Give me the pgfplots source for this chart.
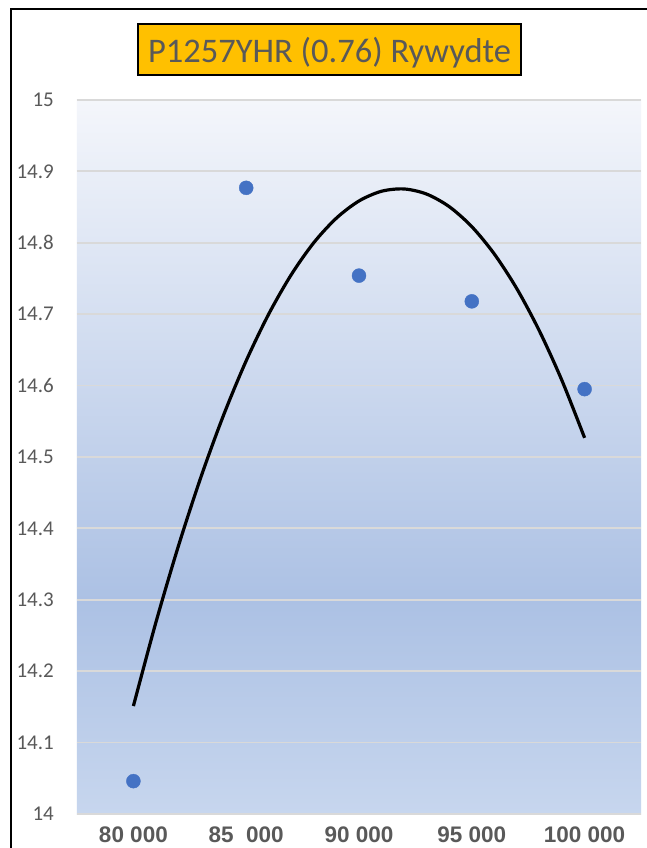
\documentclass[border=0pt]{standalone}
\usepackage{pgfplots}
\pgfplotsset{compat=1.18}
\usepackage{fontspec}
\setmainfont{Carlito}
\newfontfamily\arialfont{Liberation Sans}
\definecolor{txtgray}{HTML}{595959}
\definecolor{gridgray}{HTML}{D9D9D9}
\definecolor{ptblue}{HTML}{4472C4}
\definecolor{ttlfill}{HTML}{FFC000}
\definecolor{gtop}{HTML}{F4F6FB}
\definecolor{gmid}{HTML}{ACC1E4}
\definecolor{gbot}{HTML}{C7D6EE}
\pgfdeclareverticalshading{plotbg}{100bp}{color(0bp)=(gbot); color(25bp)=(gbot); color(40bp)=(gmid); color(75bp)=(gtop); color(100bp)=(gtop)}
\begin{document}
\begin{tikzpicture}[x=1pt,y=1pt]
\useasboundingbox (0,0) rectangle (646,848);
\fill[white] (0,0) rectangle (646,848);
\draw[black, line width=1.6pt] (11,-20) rectangle (700,839);
\begin{axis}[
  at={(77pt,34pt)}, anchor=south west,
  scale only axis, width=564pt, height=714pt,
  xmin=77500, xmax=102500, ymin=14, ymax=15,
  axis line style={draw=none},
  major tick length=0pt,
  axis background/.style={shade, shading=plotbg},
  ymajorgrids, major grid style={gridgray, line width=1.8pt},
  ytick={14,14.1,14.2,14.3,14.4,14.5,14.6,14.7,14.8,14.9,15},
  yticklabels={14,14.1,14.2,14.3,14.4,14.5,14.6,14.7,14.8,14.9,15},
  xtick={80000,85000,90000,95000,100000},
  xticklabels={80 000,85\ \ 000,90 000,95 000,100 000},
  /pgf/number format/assume math mode=true,
  yticklabel style={font=\fontsize{21}{21}\selectfont, text=txtgray, inner sep=0pt, anchor=east, xshift=-23pt},
  xticklabel style={font=\arialfont\bfseries\fontsize{22.5}{22.5}\selectfont, text=txtgray, inner sep=0pt, anchor=base, yshift=-28.5pt},
  clip=false,
]
\addplot[black, line width=3.2pt, smooth, no marks] coordinates {
(80000,14.1512) (81000,14.2687) (82000,14.3758) (83000,14.4725) (84000,14.5589)
(85000,14.6348) (86000,14.7003) (87000,14.7555) (88000,14.8003) (89000,14.8346)
(90000,14.8586) (91000,14.8722) (92000,14.8754) (93000,14.8682) (94000,14.8506)
(95000,14.8226) (96000,14.7842) (97000,14.7355) (98000,14.6763) (99000,14.6068)
(100000,14.5268)
};
\addplot[only marks, mark=*, mark size=7pt, mark options={draw=ptblue, fill=ptblue}] coordinates {
(80000,14.046) (85000,14.877) (90000,14.754) (95000,14.718) (100000,14.595)
};
\end{axis}
\draw[black, line width=1.6pt, fill=ttlfill] (138,773) rectangle (521,824);
\node[anchor=base, text=txtgray, inner sep=0pt, font=\fontsize{34.5}{34.5}\selectfont] at (329.5,785) {P1257YHR (0.76) Rywydte};
\end{tikzpicture}
\end{document}
